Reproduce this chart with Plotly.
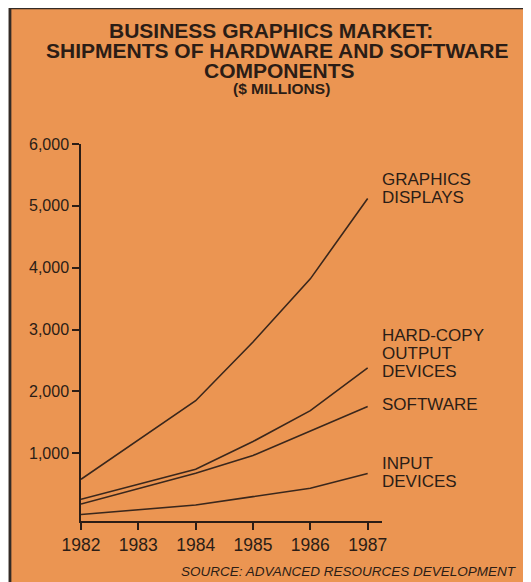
import plotly.graph_objects as go

# data ($ millions)
years       = [1982, 1983, 1984, 1985, 1986, 1987]
graphics    = [580, 1210, 1850, 2800, 3820, 5120]
hardcopy    = [257, 500, 742, 1190, 1690, 2380]
software    = [181, 430, 677, 965, 1355, 1755]
input_dev   = [10, 85, 165, 300, 435, 675]

series = {
    'GRAPHICS<br>DISPLAYS'             : graphics,
    'HARD-COPY<br>OUTPUT<br>DEVICES'   : hardcopy,
    'SOFTWARE'                         : software,
    'INPUT<br>DEVICES'                 : input_dev,
}
label_top = [0.907, 0.493, 0.3077, 0.153]   # paper y of each label's first line
LINE_STEP = 18 / 377                         # label line spacing in paper units

y_ticks     = [1000, 2000, 3000, 4000, 5000, 6000]
y_ticktext  = ['1,000', '2,000', '3,000', '4,000', '5,000', '6,000']

title_lines = ['BUSINESS GRAPHICS MARKET:',
               'SHIPMENTS OF HARDWARE AND SOFTWARE',
               'COMPONENTS']
subtitle    = '($ MILLIONS)'
source      = 'SOURCE: ADVANCED RESOURCES DEVELOPMENT'

ORANGE = '#EB9552'
INK    = '#2b1d16'
FONT   = 'Liberation Sans, Arial, sans-serif'

fig = go.Figure()

for name, vals in series.items():
    fig.add_trace(go.Scatter(
        x=years, y=vals, mode='lines', name=name,
        line=dict(color='#3a271c', width=1.6),
        showlegend=False, hoverinfo='x+y'))

# orange panel with dark left/top border
fig.add_shape(type='rect', xref='paper', yref='paper',
              x0=-0.236, x1=2, y0=-1, y1=1.361,
              fillcolor=ORANGE, line=dict(color='#332b26', width=2.8),
              layer='below')

# title block
for txt, xx, yy in zip(title_lines, [0.632, 0.652, 0.658], [1.302, 1.249, 1.196]):
    fig.add_annotation(text=f'<b>{txt}</b>', xref='paper', yref='paper',
                       x=xx, y=yy, showarrow=False, xanchor='center', yanchor='middle',
                       font=dict(family=FONT, size=21, color=INK))
fig.add_annotation(text=f'<b>{subtitle}</b>', xref='paper', yref='paper',
                   x=0.665, y=1.146, showarrow=False, xanchor='center', yanchor='middle',
                   font=dict(family=FONT, size=15.5, color=INK))

# line labels, one annotation per text line
for name, top in zip(series, label_top):
    for i, part in enumerate(name.split('<br>')):
        fig.add_annotation(text=part, xref='paper', yref='paper',
                           x=0.995, y=top - i * LINE_STEP,
                           showarrow=False, xanchor='left', yanchor='middle',
                           font=dict(family=FONT, size=17, color=INK))

fig.add_annotation(text=f'<i>{source}</i>', xref='paper', yref='paper',
                   x=1.455, y=-0.135, showarrow=False, xanchor='right', yanchor='middle',
                   font=dict(family=FONT, size=13.5, color=INK))

# page body has an 8px margin, so the figure is 8px smaller than the window
fig.update_layout(
    width=523, height=574,
    margin=dict(l=73, r=149, t=136, b=61),
    paper_bgcolor='#f8f6f3',
    plot_bgcolor='rgba(0,0,0,0)',
    font=dict(family=FONT, color=INK),
)
fig.update_xaxes(range=[1982, 1987.25], tickvals=years, showgrid=False, zeroline=False,
                 showline=True, linecolor=INK, linewidth=1.5,
                 ticks='outside', ticklen=7, tickwidth=1.5, tickcolor=INK,
                 tickfont=dict(family=FONT, size=17.5, color=INK))
fig.update_yaxes(range=[-94, 6000], tickvals=y_ticks, ticktext=y_ticktext,
                 showgrid=False, zeroline=False,
                 showline=True, linecolor=INK, linewidth=1.5,
                 ticks='outside', ticklen=7, tickwidth=1.5, tickcolor=INK,
                 tickfont=dict(family=FONT, size=16, color=INK))

fig.write_html("out.html")
